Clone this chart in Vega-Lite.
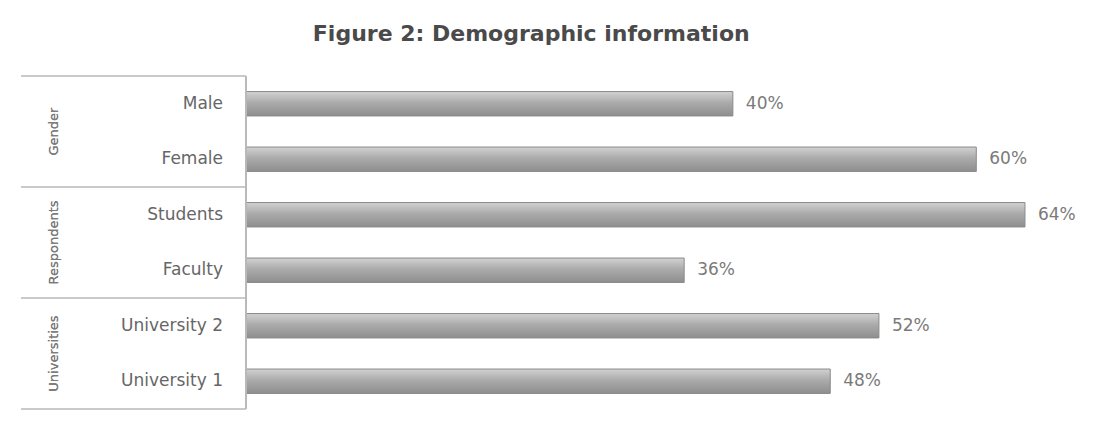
{
  "$schema": "https://vega.github.io/schema/vega-lite/v6.json",
  "background": "white",
  "bounds": "flush",
  "padding": {"left": 20, "top": 22, "right": 18, "bottom": 10},
  "title": {
    "text": "Figure 2: Demographic information",
    "font": "DejaVu Sans",
    "fontSize": 22,
    "fontWeight": "bold",
    "color": "#4a4a4a",
    "anchor": "middle",
    "dx": -28,
    "offset": 30
  },
  "datasets": {
    "rows": [
      {"group": "Gender", "category": "Male", "value": 0.40},
      {"group": "Gender", "category": "Female", "value": 0.60},
      {"group": "Respondents", "category": "Students", "value": 0.64},
      {"group": "Respondents", "category": "Faculty", "value": 0.36},
      {"group": "Universities", "category": "University 2", "value": 0.52},
      {"group": "Universities", "category": "University 1", "value": 0.48}
    ]
  },
  "data": {"name": "rows"},
  "spacing": 0,
  "hconcat": [
    {
      "width": 66,
      "height": 333,
      "layer": [
        {
          "mark": {"type": "rule", "color": "#b8b8b8", "strokeWidth": 1},
          "encoding": {
            "y": {"field": "group", "type": "nominal", "sort": ["Gender", "Respondents", "Universities"], "bandPosition": 0, "scale": {"paddingInner": 0, "paddingOuter": 0}, "axis": null}
          }
        },
        {
          "transform": [{"filter": "datum.group === 'Universities'"}],
          "mark": {"type": "rule", "color": "#b8b8b8", "strokeWidth": 1},
          "encoding": {
            "y": {"field": "group", "type": "nominal", "sort": ["Gender", "Respondents", "Universities"], "bandPosition": 1, "axis": null}
          }
        },
        {
          "mark": {"type": "text", "angle": 270, "fontSize": 13, "color": "#7a7a7a", "font": "DejaVu Sans"},
          "encoding": {
            "y": {"field": "group", "type": "nominal", "sort": ["Gender", "Respondents", "Universities"], "axis": null},
            "text": {"field": "group"}
          }
        }
      ]
    },
    {
      "width": 159,
      "height": 333,
      "resolve": {"scale": {"y": "independent"}},
      "layer": [
        {
          "layer": [
            {
              "mark": {"type": "rule", "color": "#b8b8b8", "strokeWidth": 1},
              "encoding": {
                "y": {"field": "group", "type": "nominal", "sort": ["Gender", "Respondents", "Universities"], "bandPosition": 0, "scale": {"paddingInner": 0, "paddingOuter": 0}, "axis": null}
              }
            },
            {
              "transform": [{"filter": "datum.group === 'Universities'"}],
              "mark": {"type": "rule", "color": "#b8b8b8", "strokeWidth": 1},
              "encoding": {
                "y": {"field": "group", "type": "nominal", "sort": ["Gender", "Respondents", "Universities"], "bandPosition": 1, "axis": null}
              }
            }
          ]
        },
        {
          "mark": {"type": "text", "x": "width", "align": "right", "dx": -23, "fontSize": 17, "color": "#666666", "font": "DejaVu Sans"},
          "encoding": {
            "y": {"field": "category", "type": "nominal", "sort": ["Male", "Female", "Students", "Faculty", "University 2", "University 1"], "scale": {"paddingInner": 0, "paddingOuter": 0}, "axis": null},
            "text": {"field": "category"}
          }
        }
      ]
    },
    {
      "width": 852,
      "height": 333,
      "encoding": {
        "y": {"field": "category", "type": "nominal", "sort": ["Male", "Female", "Students", "Faculty", "University 2", "University 1"], "scale": {"paddingInner": 0, "paddingOuter": 0}, "axis": null}
      },
      "layer": [
        {
          "mark": {
            "type": "bar",
            "height": {"band": 0.44},
            "stroke": "#8a8a8a",
            "strokeWidth": 1,
            "fill": {
              "gradient": "linear",
              "x1": 0, "y1": 0, "x2": 0, "y2": 1,
              "stops": [
                {"offset": 0, "color": "#d2d2d2"},
                {"offset": 0.45, "color": "#ababab"},
                {"offset": 1, "color": "#8e8e8e"}
              ]
            }
          },
          "encoding": {
            "x": {"field": "value", "type": "quantitative", "scale": {"domain": [0, 0.7], "nice": false}, "axis": null}
          }
        },
        {
          "mark": {"type": "text", "align": "left", "dx": 13, "fontSize": 17, "color": "#7a7a7a", "font": "DejaVu Sans"},
          "encoding": {
            "x": {"field": "value", "type": "quantitative"},
            "text": {"field": "value", "type": "quantitative", "format": ".0%"}
          }
        },
        {
          "mark": {"type": "rule", "color": "#b8b8b8", "strokeWidth": 1},
          "encoding": {
            "x": {"datum": 0, "type": "quantitative"},
            "y": null
          }
        }
      ]
    }
  ],
  "config": {
    "view": {"stroke": null},
    "font": "DejaVu Sans"
  }
}
